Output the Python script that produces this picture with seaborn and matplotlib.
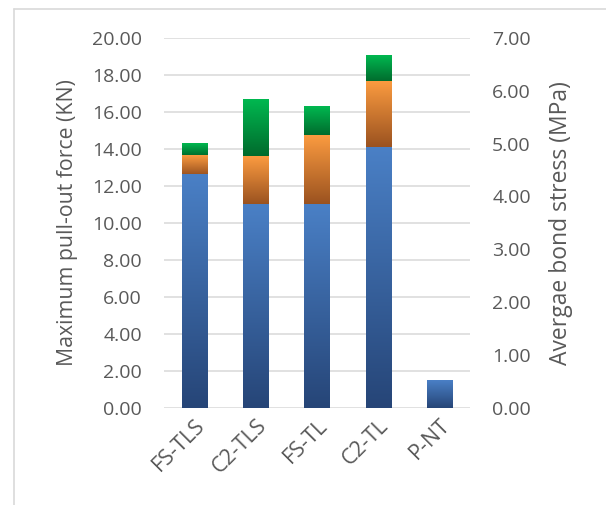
import numpy as np
import pandas as pd
import matplotlib
matplotlib.use("Agg")
import matplotlib.pyplot as plt
from matplotlib.colors import to_rgb
from matplotlib.lines import Line2D
import seaborn as sns

categories = ["FS-TLS", "C2-TLS", "FS-TL", "C2-TL", "P-NT"]
blue_vals = [12.59, 10.97, 10.97, 14.05, 1.46]
orange_vals = [1.03, 2.60, 3.73, 3.57, 0.0]
green_vals = [0.70, 3.08, 1.62, 1.41, 0.0]
left_ticks = [0, 2, 4, 6, 8, 10, 12, 14, 16, 18, 20]
right_ticks = [0, 1, 2, 3, 4, 5, 6, 7]

sns.set_theme(style="white")
plt.rcParams["font.family"] = ["Open Sans", "DejaVu Sans"]
TXT = "#595959"
GRID = "#d9d9d9"

fig = plt.figure(figsize=(6.06, 5.05), dpi=100)
ax = fig.add_axes([164 / 606, 1 - 408 / 505, 306 / 606, (408 - 37.7) / 505])

blue_top = np.array(blue_vals)
orange_top = blue_top + np.array(orange_vals)
green_top = orange_top + np.array(green_vals)

layers = [
    (green_top, orange_top, ("#00b850", "#00692c")),
    (orange_top, blue_top, ("#fb9b40", "#99511f")),
    (blue_top, np.zeros(len(categories)), ("#4a80c6", "#264577")),
]

df = pd.DataFrame({"cat": categories})
for tops, bottoms, (ctop, cbot) in layers:
    n_before = len(ax.patches)
    df["v"] = tops
    sns.barplot(data=df, x="cat", y="v", width=0.41, ax=ax, color="white",
                errorbar=None, saturation=1)
    new_patches = ax.patches[n_before:]
    grad = np.linspace(0, 1, 256)[:, None, None]
    c0 = np.array(to_rgb(cbot))
    c1 = np.array(to_rgb(ctop))
    img = c0 + (c1 - c0) * grad
    for p, b, t in zip(new_patches, bottoms, tops):
        p.set_facecolor("none")
        p.set_edgecolor("none")
        if t - b <= 0:
            continue
        x0 = p.get_x()
        x1 = x0 + p.get_width()
        ax.imshow(img, extent=(x0, x1, b, t), origin="lower", aspect="auto",
                  zorder=2, interpolation="bilinear")

ax.set_xlim(-0.5, 4.5)
ax.set_ylim(0, 20)
ax.set_yticks(left_ticks)
ax.set_yticklabels([f"{v:.2f}" for v in left_ticks])
ax.set_axisbelow(True)
ax.yaxis.grid(True, color=GRID, linewidth=1.1)
ax.xaxis.grid(False)
for s in ax.spines.values():
    s.set_visible(False)
ax.tick_params(axis="y", length=0, pad=16, labelsize=14, labelcolor=TXT)
ax.tick_params(axis="x", length=0, pad=5, labelsize=15.5, labelcolor=TXT)
ax.set_xlabel("")
ax.set_xticks(range(len(categories)))
ax.set_xticklabels(categories, rotation=45, ha="right", va="top",
                   rotation_mode="anchor")
ax.set_ylabel("Maximum pull-out force (KN)", fontsize=15.3, color=TXT, labelpad=10)

ax2 = ax.twinx()
ax2.set_ylim(0, 7)
ax2.set_yticks(right_ticks)
ax2.set_yticklabels([f"{v:.2f}" for v in right_ticks])
for s in ax2.spines.values():
    s.set_visible(False)
ax2.tick_params(axis="y", length=0, pad=16, labelsize=14, labelcolor=TXT)
ax2.grid(False)
ax2.set_ylabel("Avergae bond stress (MPa)", fontsize=16.5, color=TXT, labelpad=13)

fig.add_artist(Line2D([13.5 / 606, 13.5 / 606], [0, 1 - 8.5 / 505],
                      transform=fig.transFigure, color=GRID, lw=1.2))
fig.add_artist(Line2D([13.5 / 606, 1], [1 - 8.5 / 505, 1 - 8.5 / 505],
                      transform=fig.transFigure, color=GRID, lw=1.2))

fig.savefig("out.png", dpi=100)
